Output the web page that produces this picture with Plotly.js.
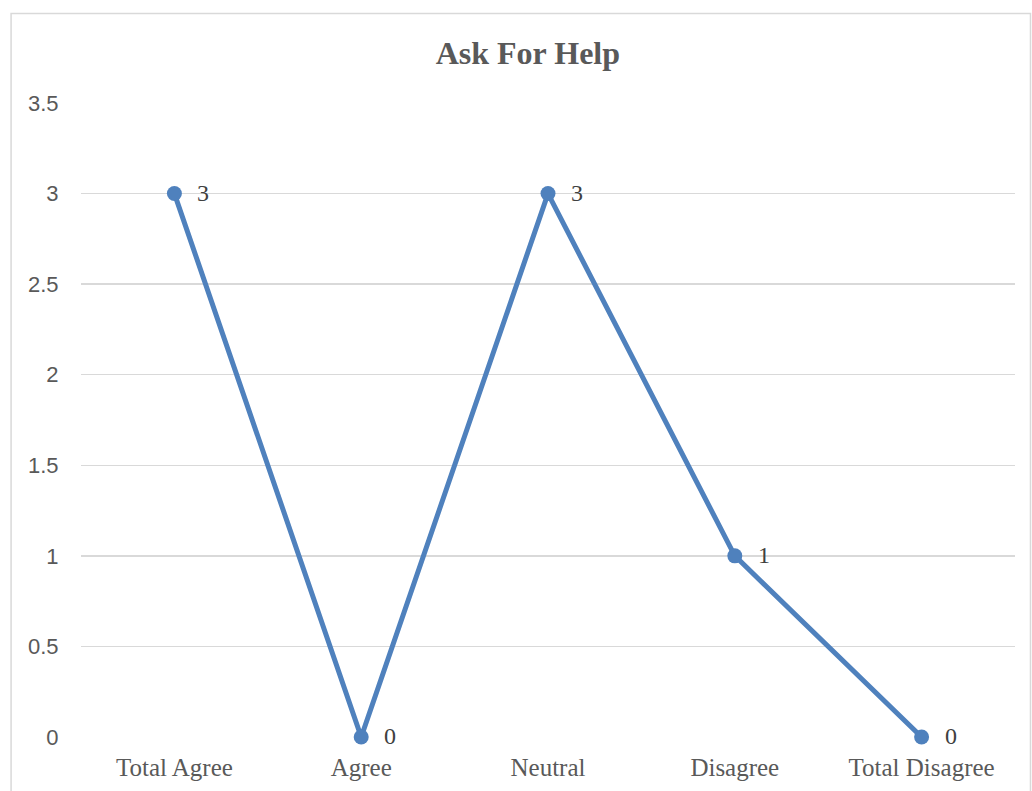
<!DOCTYPE html>
<html>
<head>
<meta charset="utf-8">
<script src="https://cdn.plot.ly/plotly-3.0.1.min.js"></script>
<style>html,body{margin:0;padding:0;background:#fff;}#chart{width:1032px;height:791px;}</style>
</head>
<body>
<div id="chart"></div>
<script>
var categories = ["Total Agree", "Agree", "Neutral", "Disagree", "Total Disagree"];
var values = [3, 0, 3, 1, 0];
var yTicks = [0, 0.5, 1, 1.5, 2, 2.5, 3, 3.5];
var yTickLabels = ["0", "0.5", "1", "1.5", "2", "2.5", "3", "3.5"];
var chartTitle = "Ask For Help";

var trace = {
  x: categories,
  y: values,
  type: "scatter",
  mode: "lines+markers",
  line: {color: "#4F81BD", width: 5},
  marker: {color: "#4F81BD", size: 15},
  cliponaxis: false,
  hoverinfo: "x+y"
};

var labels = categories.map(function (c, i) {
  return {
    x: c, y: values[i], xref: "x", yref: "y",
    text: String(values[i]), showarrow: false,
    xanchor: "left", yanchor: "middle", xshift: 21, yshift: 1,
    font: {family: "Liberation Serif, serif", size: 24, color: "#404040"}
  };
});

var layout = {
  width: 1032, height: 791,
  margin: {l: 80.5, r: 16.5, t: 103, b: 54},
  paper_bgcolor: "#fff", plot_bgcolor: "#fff",
  showlegend: false,
  title: {text: "<b>" + chartTitle + "</b>", x: 0.5115, xanchor: "center", y: 0.933, yanchor: "middle",
          font: {family: "Liberation Serif, Times New Roman, serif", size: 32, color: "#595959"}},
  xaxis: {
    type: "category", range: [-0.5, 4.5], showgrid: false, zeroline: false, showline: false,
    ticks: "outside", ticklen: 8, tickcolor: "rgba(0,0,0,0)",
    tickfont: {family: "Liberation Serif, serif", size: 25, color: "#595959"}, fixedrange: true
  },
  yaxis: {
    range: [0, 3.5], tickvals: yTicks, ticktext: yTickLabels,
    showgrid: true, gridcolor: "#d9d9d9", gridwidth: 1.5, zeroline: false, showline: false,
    ticks: "outside", ticklen: 17, tickcolor: "rgba(0,0,0,0)",
    tickfont: {family: "Liberation Sans, Arial, sans-serif", size: 22, color: "#595959"}, fixedrange: true
  },
  annotations: labels,
  shapes: [{
    type: "rect", xref: "paper", yref: "paper",
    x0: (10.5 - 80.5) / 935, x1: (1031 - 80.5) / 935,
    y0: -0.2, y1: (737 - 13.5) / 634,
    line: {color: "#d9d9d9", width: 1.5}, layer: "below"
  }]
};

Plotly.newPlot("chart", [trace], layout, {displayModeBar: false, staticPlot: true});
</script>
</body>
</html>
